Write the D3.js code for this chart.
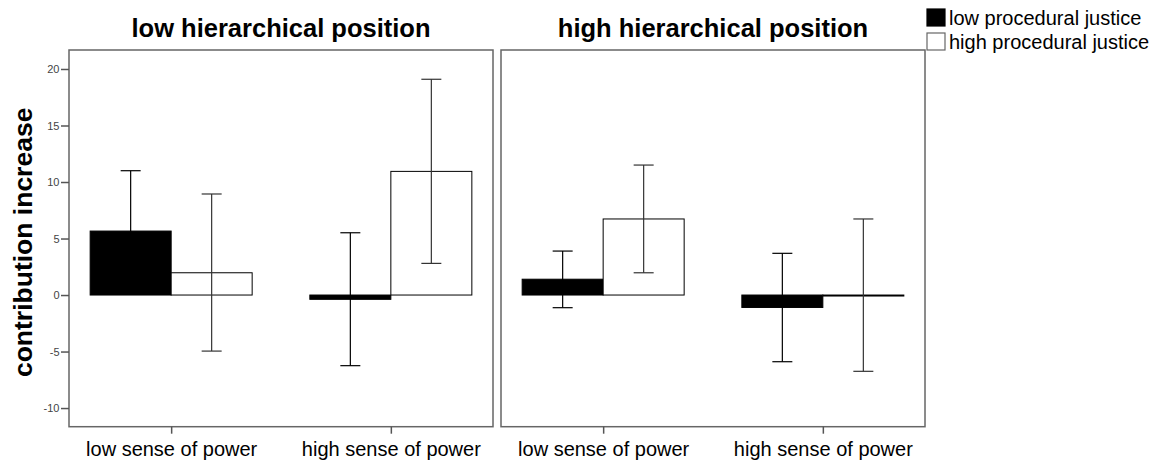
<!DOCTYPE html>
<html><head><meta charset="utf-8">
<script src="https://cdn.jsdelivr.net/npm/d3@7"></script>
<style>body{margin:0;background:#fff;} svg{display:block;font-family:"Liberation Sans",Arial,sans-serif;}</style>
</head><body>
<svg id="c" width="1158" height="465"></svg>
<script>
// ---- data ----
const panels = ["low hierarchical position", "high hierarchical position"];
const categories = ["low sense of power", "high sense of power"];
const seriesNames = ["low procedural justice", "high procedural justice"];
const yTicks = [-10, -5, 0, 5, 10, 15, 20];
// means per panel [low sense, high sense]
const meanLowPJ = [[5.66, -0.38], [1.40, -1.10]];
const meanHighPJ = [[1.97, 10.94], [6.73, 0.0]];
// 95% CI bounds
const ciLowPJLower = [[0.32, -6.25], [-1.12, -5.90]];
const ciLowPJUpper = [[11.0, 5.51], [3.89, 3.69]];
const ciHighPJLower = [[-4.96, 2.80], [1.97, -6.75]];
const ciHighPJUpper = [[8.94, 19.09], [11.50, 6.73]];

// ---- layout ----
const svg = d3.select("#c");
const panelX = [69, 501], panelW = 424, plotTop = 50, plotBottom = 426.7;
const y = d3.scaleLinear().domain([-11.65, 21.68]).range([plotBottom, plotTop]);
const x = d3.scalePoint().domain(categories).range([0, panelW]).padding(0.465);
const barW = 81, capW = 20;

panels.forEach((p, pi) => {
  const g = svg.append("g").attr("transform", `translate(${panelX[pi]},0)`);
  g.append("text").attr("x", panelW / 2).attr("y", 37).attr("text-anchor", "middle")
    .attr("font-size", 25.5).attr("font-weight", "bold").attr("fill", "#000").text(p);

  const rows = [];
  categories.forEach((c, ci) => {
    rows.push({c, s: 0, m: meanLowPJ[pi][ci], lo: ciLowPJLower[pi][ci], hi: ciLowPJUpper[pi][ci]});
    rows.push({c, s: 1, m: meanHighPJ[pi][ci], lo: ciHighPJLower[pi][ci], hi: ciHighPJUpper[pi][ci]});
  });
  const bx = d => x(d.c) + (d.s === 0 ? -barW : 0);
  const cx = d => x(d.c) + (d.s === 0 ? -barW / 2 : barW / 2);

  g.selectAll("rect.bar").data(rows).join("rect").attr("class", "bar")
    .attr("x", bx).attr("width", barW)
    .attr("y", d => y(Math.max(0, d.m)))
    .attr("height", d => Math.max(Math.abs(y(d.m) - y(0)), 1))
    .attr("fill", d => d.s === 0 ? "#000" : "#fff")
    .attr("stroke", "#000").attr("stroke-width", 1);

  const eb = g.selectAll("g.eb").data(rows).join("g").attr("class", "eb")
    .attr("stroke", d => d.s === 0 ? "#000" : "#333").attr("stroke-width", 1.2);
  eb.append("line").attr("x1", cx).attr("x2", cx).attr("y1", d => y(d.lo)).attr("y2", d => y(d.hi));
  eb.append("line").attr("x1", d => cx(d) - capW / 2).attr("x2", d => cx(d) + capW / 2).attr("y1", d => y(d.lo)).attr("y2", d => y(d.lo));
  eb.append("line").attr("x1", d => cx(d) - capW / 2).attr("x2", d => cx(d) + capW / 2).attr("y1", d => y(d.hi)).attr("y2", d => y(d.hi));

  g.append("rect").attr("x", 0).attr("y", plotTop).attr("width", panelW).attr("height", plotBottom - plotTop)
    .attr("fill", "none").attr("stroke", "#666").attr("stroke-width", 1.5);

  const xa = g.append("g").attr("transform", `translate(0,${plotBottom})`)
    .call(d3.axisBottom(x).tickSize(7).tickPadding(8));
  xa.select(".domain").remove();
  xa.selectAll("line").attr("stroke", "#555").attr("stroke-width", 1.5);
  xa.selectAll("text").attr("font-size", 20).attr("fill", "#000").attr("font-family", "Liberation Sans, Arial, sans-serif");

  if (pi === 0) {
    const ya = g.append("g").call(d3.axisLeft(y).tickValues(yTicks).tickFormat(d => String(d)).tickSize(8).tickPadding(1.5));
    ya.select(".domain").remove();
    ya.selectAll("line").attr("stroke", "#555").attr("stroke-width", 1.5);
    ya.selectAll("text").attr("font-size", 11).attr("fill", "#444").attr("font-family", "Liberation Sans, Arial, sans-serif");
  }
});

svg.append("text").attr("transform", `translate(32,${(plotTop + plotBottom) / 2 + 4}) rotate(-90)`)
  .attr("text-anchor", "middle").attr("font-size", 26.5).attr("font-weight", "bold").text("contribution increase");

// legend
const lg = svg.append("g").attr("transform", "translate(927,8)");
seriesNames.forEach((s, i) => {
  lg.append("rect").attr("x", 0).attr("y", i * 24 + 1).attr("width", 18).attr("height", 17)
    .attr("fill", i === 0 ? "#000" : "#fff").attr("stroke", i === 0 ? "#000" : "#666").attr("stroke-width", 1.2);
  lg.append("text").attr("x", 22).attr("y", i * 24 + 17).attr("font-size", 20).attr("fill", "#000").text(s);
});
</script>
</body></html>
